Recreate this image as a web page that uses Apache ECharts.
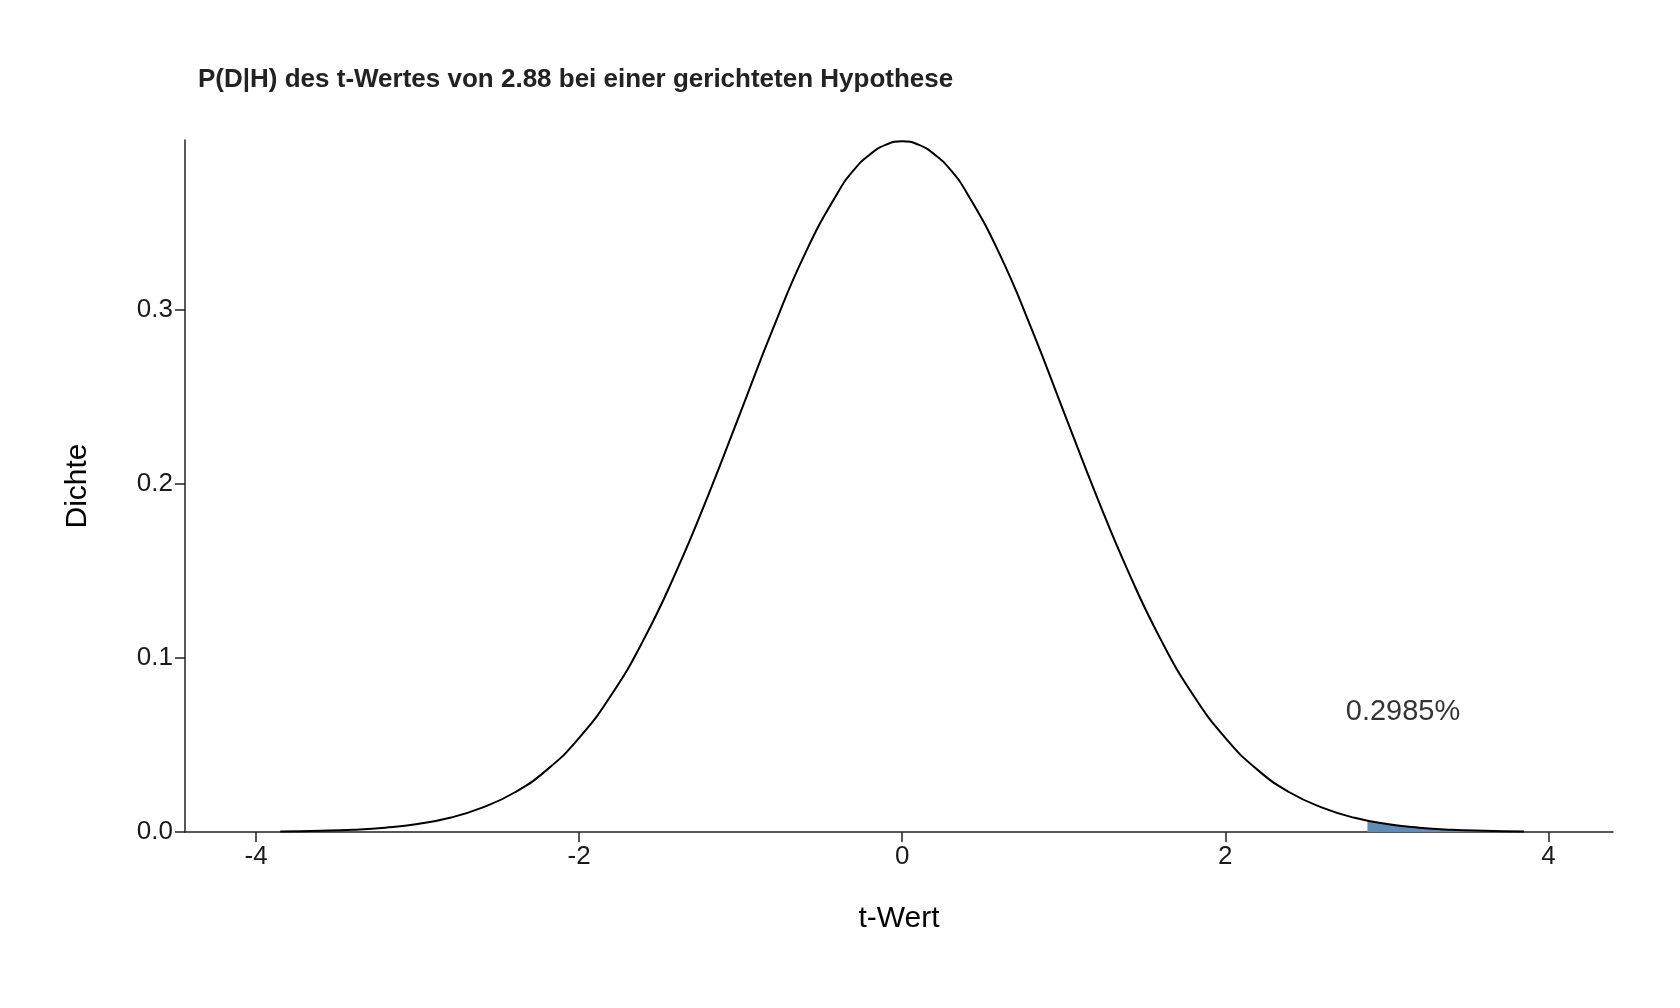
<!DOCTYPE html>
<html>
<head>
<meta charset="utf-8">
<script src="https://cdn.jsdelivr.net/npm/echarts@6/dist/echarts.min.js"></script>
<style>html,body{margin:0;padding:0;background:#fff}#chart{width:1680px;height:1008px}</style>
</head>
<body>
<div id="chart"></div>
<script>
// Werte
var tWerte = [-3.85, -3.6, -3.4, -3.2, -3.0, -2.8, -2.6, -2.4, -2.2, -2.0, -1.8, -1.6, -1.4, -1.2, -1.0, -0.8, -0.6, -0.4, -0.3, -0.2, -0.1, 0,
              0.1, 0.2, 0.3, 0.4, 0.6, 0.8, 1.0, 1.2, 1.4, 1.6, 1.8, 2.0, 2.2, 2.4, 2.6, 2.8, 3.0, 3.2, 3.4, 3.6, 3.85];
var dichte = [0.0003, 0.0007, 0.0013, 0.0025, 0.0046, 0.0082, 0.0140, 0.0227, 0.0357, 0.0541, 0.0789, 0.1107, 0.1495, 0.1938, 0.2415, 0.2893, 0.3327, 0.3673, 0.3804, 0.3894, 0.3950, 0.397,
              0.3950, 0.3894, 0.3804, 0.3673, 0.3327, 0.2893, 0.2415, 0.1938, 0.1495, 0.1107, 0.0789, 0.0541, 0.0357, 0.0227, 0.0140, 0.0082, 0.0046, 0.0025, 0.0013, 0.0007, 0.0003];
var flaecheX = [2.88, 3.0, 3.2, 3.4, 3.6, 3.85];
var flaecheY = [0.0066, 0.0046, 0.0025, 0.0013, 0.0007, 0.0003];
var xTicks = [-4, -2, 0, 2, 4];
var yTicks = [0, 0.1, 0.2, 0.3];
var labelText = '0.2985%';
var labelPos = [3.1, 0.069];

var kurve = tWerte.map(function (x, i) { return [x, dichte[i]]; });
var flaeche = flaecheX.map(function (x, i) { return [x, flaecheY[i]]; });

var chart = echarts.init(document.getElementById('chart'));
var axisCol = '#222';
chart.setOption({
  animation: false,
  title: {
    text: 'P(D|H) des t-Wertes von 2.88 bei einer gerichteten Hypothese',
    left: 193, top: 62,
    textStyle: { fontFamily: 'Liberation Sans', fontSize: 26, fontWeight: 'bold', color: '#222' }
  },
  grid: { left: 185, right: 67, top: 140, bottom: 176 },
  xAxis: {
    type: 'value', min: -4.44, max: 4.4,
    name: 't-Wert', nameLocation: 'middle', nameGap: 72,
    nameTextStyle: { fontFamily: 'Liberation Sans', fontSize: 30, color: '#000' },
    axisLine: { lineStyle: { color: axisCol, width: 1.5 } },
    axisTick: { show: true, length: 10, customValues: xTicks, lineStyle: { color: axisCol, width: 1.5 } },
    axisLabel: { customValues: xTicks, fontFamily: 'Liberation Sans', fontSize: 26, color: '#1a1a1a', margin: 12 },
    splitLine: { show: false }
  },
  yAxis: {
    type: 'value', min: 0, max: 0.3977,
    name: 'Dichte', nameLocation: 'middle', nameGap: 92, nameRotate: 90,
    nameTextStyle: { fontFamily: 'Liberation Sans', fontSize: 30, color: '#000' },
    axisLine: { show: true, onZero: false, lineStyle: { color: axisCol, width: 1.5 } },
    axisTick: { show: true, length: 10, customValues: yTicks, lineStyle: { color: axisCol, width: 1.5 } },
    axisLabel: { customValues: yTicks, fontFamily: 'Liberation Sans', fontSize: 26, color: '#1a1a1a', margin: 12,
      formatter: function (v) { return v.toFixed(1); } },
    splitLine: { show: false }
  },
  series: [
    {
      type: 'line', data: flaeche, smooth: true, symbol: 'none',
      lineStyle: { width: 0 }, areaStyle: { color: '#5f8db8', opacity: 1 }, z: 1
    },
    {
      type: 'line', data: kurve, smooth: 0.5, symbol: 'none',
      lineStyle: { color: '#000', width: 2 }, z: 2
    },
    {
      type: 'scatter', data: [labelPos], symbolSize: 0,
      label: { show: true, formatter: labelText, position: 'inside',
        fontFamily: 'Liberation Sans', fontSize: 29, color: '#000' }
    }
  ]
});
</script>
</body>
</html>
